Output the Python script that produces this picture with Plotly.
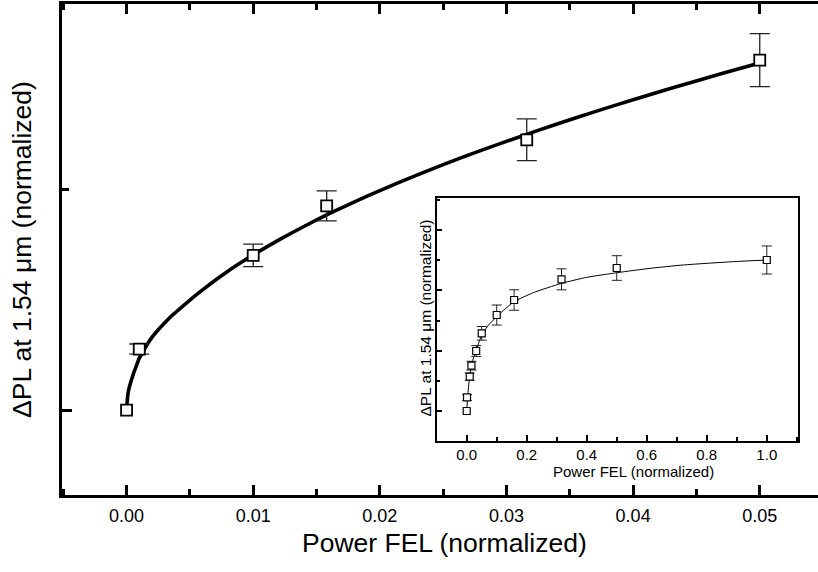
import plotly.graph_objects as go

# ---------------- data ----------------
# measured points (power normalized, ΔPL normalized units of the main plot)
power = [0, 0.001, 0.01, 0.0158, 0.0316, 0.05, 0.1, 0.158, 0.316, 0.5, 1.0]
dpl = [0, 0.277, 0.703, 0.928, 1.228, 1.590, 1.965, 2.272, 2.695, 2.927, 3.091]
# error bars (the first point, at zero power, has none)
err_main = [0.023, 0.051, 0.068, 0.095, 0.12]
err_inset = [0.06, 0.075, 0.09, 0.11, 0.14, 0.205, 0.21, 0.215, 0.252, 0.287]
n_main = 6

# fitted curves
fit_x_main = [0, 0.0001, 0.0002, 0.0004, 0.0006, 0.0008, 0.001, 0.0013, 0.0016, 0.002,
              0.0025, 0.003, 0.0035, 0.004, 0.005, 0.006, 0.007, 0.008, 0.009, 0.010,
              0.012, 0.014, 0.016, 0.018, 0.020, 0.022, 0.025, 0.028, 0.031, 0.034,
              0.037, 0.040, 0.043, 0.046, 0.048, 0.0502]
fit_y_main = [0, 0.07, 0.10, 0.14, 0.175, 0.205, 0.235, 0.265, 0.295, 0.33,
              0.365, 0.395, 0.425, 0.45, 0.50, 0.546, 0.59, 0.631, 0.669, 0.705,
              0.772, 0.834, 0.892, 0.946, 0.997, 1.046, 1.115, 1.18, 1.241, 1.30,
              1.356, 1.41, 1.462, 1.512, 1.545, 1.58]
fit_x_inset = [0, 0.0033, 0.009, 0.0167, 0.031, 0.048, 0.07, 0.1, 0.13, 0.158, 0.222,
               0.316, 0.4, 0.502, 0.611, 0.722, 0.889, 1.0]
fit_y_inset = [0, 0.293, 0.669, 0.976, 1.228, 1.52, 1.74, 1.931, 2.1, 2.238, 2.422,
               2.613, 2.736, 2.832, 2.92, 2.989, 3.057, 3.091]

xtitle = "Power FEL (normalized)"
ytitle = "ΔPL at 1.54 μm (normalized)"

FONT = "Liberation Sans, Arial, Helvetica, sans-serif"

fig = go.Figure()

main_marker = dict(symbol="square", size=11, color="white", line=dict(color="black", width=1.8))
inset_marker = dict(symbol="square", size=7, color="white", line=dict(color="black", width=1.2))

# ---- main plot ----
fig.add_trace(go.Scatter(x=fit_x_main, y=fit_y_main, mode="lines",
                         line=dict(color="black", width=3.6, shape="spline", smoothing=0.8),
                         xaxis="x", yaxis="y", showlegend=False, hoverinfo="skip"))
fig.add_trace(go.Scatter(x=power[1:n_main], y=dpl[1:n_main], mode="markers",
                         marker=main_marker,
                         error_y=dict(type="data", array=err_main, color="#222222",
                                      thickness=1.3, width=10),
                         xaxis="x", yaxis="y", showlegend=False))
fig.add_trace(go.Scatter(x=power[:1], y=dpl[:1], mode="markers", marker=main_marker,
                         xaxis="x", yaxis="y", showlegend=False))

# ---- inset ----
fig.add_trace(go.Scatter(x=fit_x_inset, y=fit_y_inset, mode="lines",
                         line=dict(color="black", width=1, shape="spline", smoothing=0.6),
                         xaxis="x2", yaxis="y2", showlegend=False, hoverinfo="skip"))
fig.add_trace(go.Scatter(x=power[1:], y=dpl[1:], mode="markers",
                         marker=inset_marker,
                         error_y=dict(type="data", array=err_inset, color="#222222",
                                      thickness=1, width=5),
                         xaxis="x2", yaxis="y2", showlegend=False))
fig.add_trace(go.Scatter(x=power[:1], y=dpl[:1], mode="markers", marker=inset_marker,
                         xaxis="x2", yaxis="y2", showlegend=False))

W, H = 818, 572
L, R, T, B = 62, 0, 4, 77
pw, ph = W - L - R, H - T - B

def px2paperx(px):
    return (px - L) / pw

def px2papery(py):
    return (H - B - py) / ph

fig.update_layout(
    width=W, height=H,
    margin=dict(l=L, r=R, t=T, b=B),
    paper_bgcolor="white", plot_bgcolor="white",
    font=dict(family=FONT, color="black"),
    xaxis=dict(range=[-0.0051, 0.0546], dtick=0.01, tick0=0, tickformat=".2f",
               showline=True, linecolor="black", linewidth=3, mirror="ticks",
               ticks="inside", ticklen=10, tickwidth=3, tickcolor="black",
               minor=dict(dtick=0.005, ticks="inside", ticklen=6, tickwidth=3, tickcolor="black"),
               showgrid=False, zeroline=False,
               tickfont=dict(size=18, family=FONT), ticklabelstandoff=2),
    yaxis=dict(range=[-0.386, 1.845], dtick=2, tick0=0,
               showline=True, linecolor="black", linewidth=3, mirror=False,
               ticks="inside", ticklen=10, tickwidth=3, tickcolor="black",
               minor=dict(dtick=1, ticks="inside", ticklen=7, tickwidth=3, tickcolor="black"),
               showticklabels=False, showgrid=False, zeroline=False),
    xaxis2=dict(domain=[px2paperx(436.7), px2paperx(798.3)], anchor="y2",
                range=[-0.1, 1.105], dtick=0.2, tick0=0, tickformat=".1f",
                showline=True, linecolor="black", linewidth=1.5, mirror=True,
                ticks="inside", ticklen=6, tickwidth=1.5, tickcolor="black",
                minor=dict(dtick=0.1, ticks="inside", ticklen=3.5, tickwidth=1.5, tickcolor="black"),
                showgrid=False, zeroline=False,
                tickfont=dict(size=15, family=FONT), ticklabelstandoff=0),
    yaxis2=dict(domain=[px2papery(440.7), px2papery(198.3)], anchor="x2",
                range=[-0.608, 4.354], dtick=1.235, tick0=0,
                showline=True, linecolor="black", linewidth=1.5, mirror=True,
                ticks="inside", ticklen=6, tickwidth=1.5, tickcolor="black",
                minor=dict(dtick=0.6175, ticks="inside", ticklen=3.5, tickwidth=1.5, tickcolor="black"),
                showticklabels=False, showgrid=False, zeroline=False),
)

annots = [
    dict(text=xtitle, x=px2paperx(444), y=px2papery(543), font=dict(size=26.5)),
    dict(text=ytitle, x=px2paperx(22), y=px2papery(250), textangle=-90, font=dict(size=26.5)),
    dict(text=xtitle, x=px2paperx(633), y=px2papery(471), font=dict(size=15)),
    dict(text=ytitle, x=px2paperx(425.5), y=px2papery(318), textangle=-90, font=dict(size=15.5)),
]
for a in annots:
    fig.add_annotation(xref="paper", yref="paper", showarrow=False,
                       xanchor="center", yanchor="middle", **a)

fig.write_html("out.html", config={"displayModeBar": False},
               post_script="document.body.style.margin='0';")
